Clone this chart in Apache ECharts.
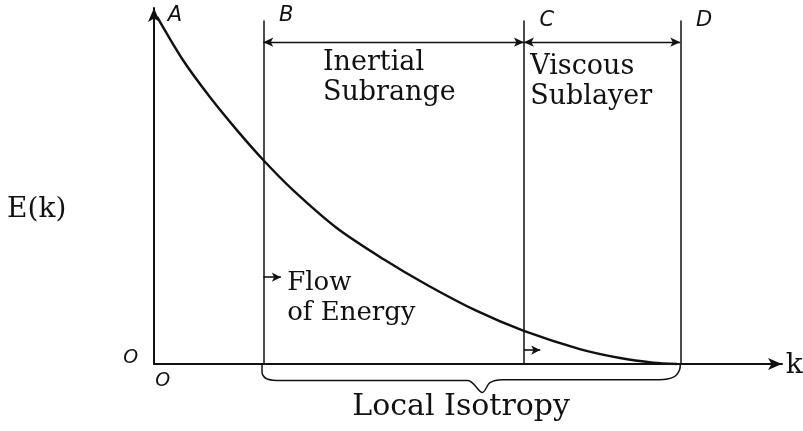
<!DOCTYPE html>
<html>
<head>
<meta charset="utf-8">
<script src="https://cdn.jsdelivr.net/npm/echarts@6/dist/echarts.min.js"></script>
<style>
html, body { margin: 0; padding: 0; background: #fff; }
#main { width: 803px; height: 431px; }
</style>
</head>
<body>
<div id="main"></div>
<script>
// energy spectrum E(k) (k and E in arbitrary units)
var kValues = [0.5, 4.6, 8.9, 13.2, 17.4, 22.1, 29.1, 36.5, 43.5, 51.4, 58.9, 67.8, 74.2, 79.5, 83.3];
var eValues = [97.5, 85.4, 75.0, 65.7, 57.3, 48.9, 38.2, 29.5, 22.2, 14.9, 9.3, 4.2, 1.7, 0.4, 0];

// range boundaries B, C, D along k
var boundNames = ['B', 'C', 'D'];
var boundK = [17.4, 58.9, 83.8];

// region texts
var regionNames = ['Inertial\nSubrange', 'Viscous\nSublayer'];
var flowText = 'Flow\nof Energy';
var braceText = 'Local Isotropy';

var ink = '#111';
var chart = echarts.init(document.getElementById('main'));

var curve = kValues.map(function (k, i) { return [k, eValues[i]]; });

// vertical boundary lines
var boundLines = boundK.map(function (k) {
    return [{ coord: [k, 0] }, { coord: [k, 96.5] }];
});
// double arrows between B-C and C-D
var spanArrows = [
    [{ coord: [boundK[0], 90.4] }, { coord: [boundK[1], 90.4] }],
    [{ coord: [boundK[1], 90.4] }, { coord: [boundK[2], 90.4] }]
];
// little flow arrows
var flowArrows = [
    [{ coord: [boundK[0], 24.4] }, { coord: [boundK[0] + 2.8, 24.4] }],
    [{ coord: [boundK[1], 3.9] }, { coord: [boundK[1] + 2.6, 3.9] }]
];

// brace under B..D
var brace = [
    [17.2, 0], [17.2, -2.4], [17.8, -4.0], [19.5, -4.6], [50.0, -4.6],
    [52.3, -8.0], [53.5, -5.2], [55.5, -4.4], [80.5, -4.4], [82.8, -3.6], [83.7, -1.6], [83.8, 0]
];

chart.setOption({
    animation: false,
    backgroundColor: '#fff',
    grid: { left: 154, right: 21, top: 8, bottom: 67 },
    xAxis: {
        type: 'value', min: 0, max: 100,
        axisLine: { show: true, symbol: ['none', 'arrow'], symbolSize: [9, 14], lineStyle: { color: ink, width: 2 } },
        axisTick: { show: false }, axisLabel: { show: false }, splitLine: { show: false }
    },
    yAxis: {
        type: 'value', min: 0, max: 100,
        axisLine: { show: true, symbol: ['none', 'arrow'], symbolSize: [9, 14], lineStyle: { color: ink, width: 2 } },
        axisTick: { show: false }, axisLabel: { show: false }, splitLine: { show: false }
    },
    series: [
        {
            type: 'line', data: curve, smooth: 0.3, symbol: 'none', clip: false,
            lineStyle: { color: ink, width: 2.4 },
            markLine: {
                silent: true, symbol: 'none', label: { show: false },
                lineStyle: { color: ink, width: 1.5, type: 'solid' },
                data: boundLines
            }
        },
        {
            type: 'line', data: [], symbol: 'none',
            markLine: {
                silent: true, symbol: ['arrow', 'arrow'], symbolSize: [7, 10], label: { show: false },
                lineStyle: { color: ink, width: 1.4, type: 'solid' },
                data: spanArrows
            }
        },
        {
            type: 'line', data: [], symbol: 'none',
            markLine: {
                silent: true, symbol: ['none', 'arrow'], symbolSize: [7, 9], label: { show: false },
                lineStyle: { color: ink, width: 1.6, type: 'solid' },
                data: flowArrows
            }
        },
        {
            type: 'line', data: brace, smooth: 0.3, symbol: 'none', clip: false,
            lineStyle: { color: ink, width: 1.5 }
        }
    ]
});

// text annotations placed in data space
function px(k, e) { return chart.convertToPixel({ gridIndex: 0 }, [k, e]); }
var serif = '"DejaVu Serif", serif';
var hand = '"DejaVu Sans", sans-serif';
function txt(str, k, e, size, family, align, style) {
    var p = px(k, e);
    return {
        type: 'text', x: p[0], y: p[1], silent: true,
        style: {
            text: str, fill: ink, font: (style || 'normal') + ' ' + size + 'px ' + family,
            align: align || 'left', verticalAlign: 'middle', lineHeight: 30
        }
    };
}
var elems = [
    txt(regionNames[0], 26.9, 80.4, 27, serif),
    txt(regionNames[1], 59.9, 79.3, 27, serif),
    txt(flowText, 21.2, 18.4, 26, serif),
    txt(braceText, 48.9, -12.2, 30, serif, 'center'),
    txt('E(k)', -23.4, 43.3, 28, serif),
    txt('k', 100.6, -0.6, 28, serif),
    txt('A', 2.2, 97.8, 21, hand, 'left', 'italic'),
    txt('O', -2.5, 1.7, 19, hand, 'right', 'italic'),
    txt('O', 0.2, -4.8, 19, hand, 'left', 'italic')
];
boundNames.forEach(function (n, i) {
    elems.push(txt(n, boundK[i] + 2.5, i === 0 ? 97.8 : 96.6, 21, hand, 'left', 'italic'));
});
chart.setOption({ graphic: elems });
</script>
</body>
</html>
